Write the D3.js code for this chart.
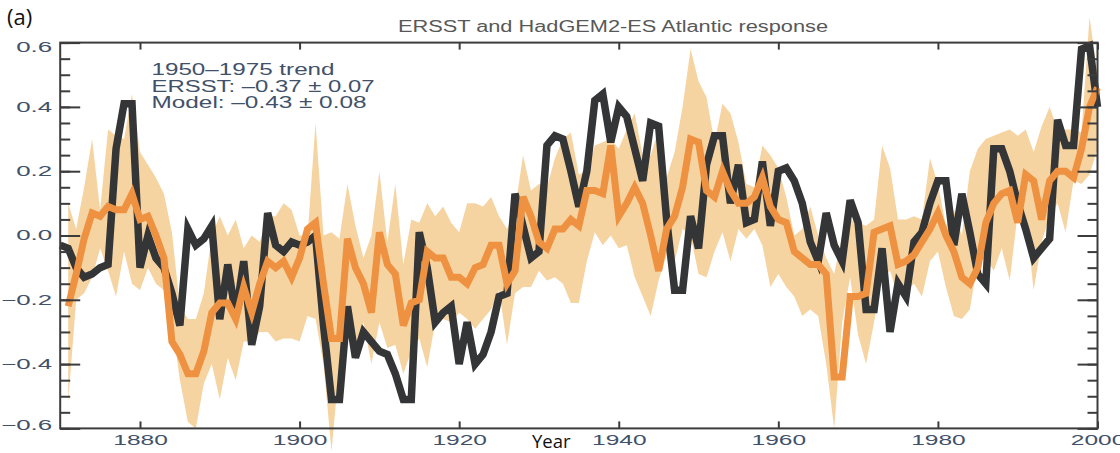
<!DOCTYPE html>
<html>
<head>
<meta charset="utf-8">
<script src="https://cdn.jsdelivr.net/npm/d3@7/dist/d3.min.js"></script>
<style>
  body { margin: 0; background: #fff; }
  svg { display: block; }
</style>
</head>
<body>
<div id="chart"></div>
<script>
// Chart constants
const WIDTH = 1120;
const HEIGHT = 453;
const MARGIN = { left: 60.2, right: 22.5, top: 42.6, bottom: 24.6 };

// ERSST Atlantic anomaly, one value per year from 1870
const ERSST_START = 1870;
const ersst = [
  -0.03, -0.04, -0.10, -0.13, -0.12, -0.10, -0.09, 0.27, 0.41, 0.41,
  -0.10, 0.00, -0.07, -0.10, -0.18, -0.28, 0.02, -0.03, -0.01, 0.03,
  -0.26, -0.09, -0.25, -0.08, -0.34, -0.22, 0.07, -0.03, -0.05, -0.02,
  -0.03, -0.02, 0.00, -0.28, -0.51, -0.51, -0.22, -0.38, -0.30, -0.33,
  -0.36, -0.37, -0.43, -0.51, -0.51, 0.01, -0.10, -0.27, -0.24, -0.22,
  -0.40, -0.27, -0.40, -0.37, -0.30, -0.19, -0.18, 0.13, 0.03, -0.07,
  -0.05, 0.28, 0.31, 0.30, 0.20, 0.09, 0.20, 0.42, 0.44, 0.29,
  0.40, 0.37, 0.27, 0.17, 0.35, 0.34, 0.05, -0.17, -0.17, 0.06,
  -0.04, 0.22, 0.31, 0.31, 0.10, 0.22, 0.04, 0.05, 0.23, 0.03,
  0.20, 0.21, 0.17, 0.10, -0.02, -0.08, 0.07, -0.03, -0.08, 0.11,
  0.04, -0.23, -0.23, -0.04, -0.30, -0.15, -0.19, -0.02, 0.01, 0.10,
  0.17, 0.17, -0.03, 0.13, 0.01, -0.12, -0.15, 0.27, 0.27, 0.20,
  0.10, 0.02, -0.07, -0.04, -0.01, 0.36, 0.28, 0.28, 0.58, 0.59,
  0.40
];

// HadGEM2-ES response: ensemble mean, upper and lower envelope, from 1871
const MODEL_START = 1871;
const modelMean = [
  -0.22, -0.12, -0.01, 0.07, 0.06, 0.09, 0.08, 0.08, 0.13,
  0.05, 0.06, 0.00, -0.07, -0.33, -0.37, -0.43, -0.43, -0.36, -0.24,
  -0.21, -0.21, -0.26, -0.16, -0.24, -0.15, -0.08, -0.10, -0.08, -0.13,
  -0.07, 0.02, 0.04, -0.15, -0.32, -0.32, -0.01, -0.10, -0.15, -0.24,
  0.01, -0.09, -0.12, -0.28, -0.21, -0.20, -0.05, -0.07, -0.07, -0.13,
  -0.13, -0.15, -0.10, -0.09, -0.03, -0.03, -0.15, -0.11, 0.12, 0.06,
  -0.02, -0.04, 0.02, 0.02, 0.05, 0.03, 0.14, 0.14, 0.13, 0.28,
  0.06, 0.10, 0.15, 0.10, 0.00, -0.11, 0.02, 0.06, 0.15, 0.30,
  0.29, 0.14, 0.12, 0.20, 0.14, 0.10, 0.10, 0.12, 0.18, 0.09,
  0.05, 0.04, -0.05, -0.07, -0.09, -0.09, -0.12, -0.44, -0.44, -0.19,
  -0.19, -0.18, 0.01, 0.02, 0.03, -0.09, -0.08, -0.06, -0.02, 0.02,
  0.07, 0.00, -0.05, -0.13, -0.15, -0.10, 0.04, 0.10, 0.13, 0.14,
  0.04, 0.19, 0.17, 0.05, 0.17, 0.20, 0.20, 0.18, 0.27, 0.40,
  0.46
];
const modelHigh = [
  0.10, 0.02, 0.15, 0.30, 0.08, 0.33, 0.31, 0.30, 0.44,
  0.26, 0.22, 0.18, 0.13, 0.01, -0.22, -0.26, -0.26, -0.18, 0.00,
  0.06, 0.00, 0.05, -0.04, 0.00, -0.02, 0.06, 0.06, 0.10, 0.08,
  0.00, 0.00, 0.35, 0.00, 0.01, -0.01, 0.16, 0.03, -0.07, 0.00,
  0.20, -0.02, 0.16, -0.09, 0.05, 0.04, 0.10, 0.06, 0.09, 0.04,
  0.01, 0.10, 0.10, 0.09, 0.12, 0.06, 0.02, 0.08, 0.25, 0.14,
  0.16, 0.15, 0.24, 0.30, 0.32, 0.19, 0.20, 0.28, 0.29, 0.30,
  0.27, 0.33, 0.38, 0.25, 0.25, 0.33, 0.18, 0.26, 0.40, 0.58,
  0.48, 0.43, 0.29, 0.41, 0.38, 0.29, 0.16, 0.15, 0.28, 0.25,
  0.21, 0.12, 0.00, 0.02, 0.09, 0.00, -0.07, -0.12, 0.00, 0.05,
  0.04, 0.03, 0.05, 0.28, 0.21, 0.05, 0.05, 0.06, 0.05, 0.24,
  0.16, 0.03, 0.08, 0.00, 0.20, 0.27, 0.30, 0.31, 0.32, 0.33,
  0.31, 0.33, 0.26, 0.34, 0.40, 0.33, 0.33, 0.33, 0.32, 0.68,
  0.50
];
const modelLow = [
  -0.52, -0.20, -0.18, -0.13, -0.04, -0.11, -0.19, -0.05, -0.15,
  -0.17, -0.10, -0.15, -0.17, -0.27, -0.45, -0.58, -0.60, -0.46, -0.40,
  -0.51, -0.38, -0.45, -0.33, -0.33, -0.30, -0.30, -0.33, -0.32, -0.32,
  -0.33, -0.25, -0.26, -0.40, -0.67, -0.40, -0.26, -0.39, -0.27, -0.40,
  -0.27, -0.35, -0.34, -0.43, -0.36, -0.32, -0.41, -0.27, -0.26, -0.27,
  -0.24, -0.26, -0.29, -0.26, -0.23, -0.17, -0.34, -0.18, -0.16, -0.16,
  -0.11, -0.14, -0.13, -0.15, -0.21, -0.21, -0.08, 0.01, -0.03, 0.00,
  -0.04, -0.03, -0.13, -0.19, -0.25, -0.14, -0.06, -0.08, 0.02, 0.00,
  -0.12, -0.13, -0.05, 0.01, -0.08, 0.02, -0.01, 0.02, -0.03, -0.16,
  -0.12, -0.16, -0.19, -0.25, -0.23, -0.25, -0.40, -0.60, -0.27, -0.13,
  -0.31, -0.40, -0.27, -0.13, -0.11, -0.19, -0.17, -0.15, -0.19, -0.08,
  -0.05, -0.16, -0.25, -0.26, -0.23, -0.08, -0.07, -0.11, -0.04, -0.14,
  0.07, 0.06, -0.17, -0.02, 0.06, 0.10, 0.01, 0.17, 0.16, 0.19,
  0.27
];

const xTicks = [1880, 1900, 1920, 1940, 1960, 1980, 2000];
const yTicks = [-0.6, -0.4, -0.2, 0.0, 0.2, 0.4, 0.6];

const TITLE = "ERSST and HadGEM2-ES Atlantic response";
const NOTE = ["1950\u20131975 trend", "ERSST: \u20130.37 \u00b1 0.07", "Model: \u20130.43 \u00b1 0.08"];

const LABEL_COLOR = "#41516a";
const FONT = "'Liberation Sans', Arial, Helvetica, sans-serif";

// stretch text horizontally, the source figure uses a wide face
function stretch (sel, k) {
  sel.each(function () {
    const w = this.getComputedTextLength();
    d3.select(this).attr("textLength", w * k).attr("lengthAdjust", "spacingAndGlyphs");
  });
}

draw();

function draw () {
  const svg = d3.select("#chart").append("svg")
    .attr("width", WIDTH)
    .attr("height", HEIGHT);

  const x = d3.scaleLinear()
    .domain([1870, 2000])
    .range([MARGIN.left, WIDTH - MARGIN.right]);
  const y = d3.scaleLinear()
    .domain([-0.6, 0.6])
    .range([HEIGHT - MARGIN.bottom, MARGIN.top]);

  const obs = ersst.map((v, i) => ({ year: ERSST_START + i, value: v }));
  const model = modelMean.map((v, i) => ({
    year: MODEL_START + i, value: v, lo: modelLow[i], hi: modelHigh[i]
  }));

  // envelope
  svg.append("path")
    .datum(model)
    .attr("fill", "#f6d4a2")
    .attr("d", d3.area()
      .x(d => x(d.year))
      .y0(d => y(d.lo))
      .y1(d => y(d.hi)));

  const line = d3.line()
    .x(d => x(d.year))
    .y(d => y(d.value));

  svg.append("path")
    .datum(obs)
    .attr("fill", "none")
    .attr("stroke", "#333537")
    .attr("stroke-width", 7.5)
    .attr("d", line);

  svg.append("path")
    .datum(model)
    .attr("fill", "none")
    .attr("stroke", "#ee9141")
    .attr("stroke-width", 7)
    .attr("d", line);

  // frame
  svg.append("rect")
    .attr("x", x(1870))
    .attr("y", y(0.6))
    .attr("width", x(2000) - x(1870))
    .attr("height", y(-0.6) - y(0.6))
    .attr("fill", "none")
    .attr("stroke", "#3c3c3c")
    .attr("stroke-width", 2);

  const minor = y.ticks(24);

  // y axes, ticks pointing inward on both sides
  const yLeft = svg.append("g").attr("transform", `translate(${x(1870)},0)`);
  yLeft.append("g")
    .call(d3.axisLeft(y).tickValues(minor).tickSize(-10).tickFormat(""));
  yLeft.append("g")
    .call(d3.axisLeft(y).tickValues(yTicks).tickSize(-20).tickPadding(8).tickFormat(d3.format(".1f")));

  const yRight = svg.append("g").attr("transform", `translate(${x(2000)},0)`);
  yRight.append("g")
    .call(d3.axisRight(y).tickValues(minor).tickSize(-10).tickFormat(""));
  yRight.append("g")
    .call(d3.axisRight(y).tickValues(yTicks).tickSize(-20).tickFormat(""));

  // x axes
  svg.append("g")
    .attr("class", "xaxis")
    .attr("transform", `translate(0,${y(-0.6)})`)
    .call(d3.axisBottom(x).tickValues(xTicks).tickSize(-7).tickPadding(6.5).tickFormat(d3.format("d")));
  svg.append("g")
    .attr("transform", `translate(0,${y(0.6)})`)
    .call(d3.axisTop(x).tickValues(xTicks).tickSize(-7).tickFormat(""));

  svg.selectAll(".domain").remove();
  svg.selectAll(".tick line").attr("stroke", "#3c3c3c").attr("stroke-width", 2);

  svg.selectAll(".tick text")
    .attr("fill", LABEL_COLOR)
    .style("font-family", FONT)
    .style("font-size", "14px");

  // end labels sit a little inside the frame
  yLeft.selectAll(".tick text")
    .attr("dy", d => d === 0.6 ? "0.62em" : d === -0.6 ? "0.05em" : "0.32em");

  stretch(yLeft.selectAll(".tick text"), 1.85);
  stretch(svg.select(".xaxis").selectAll(".tick text"), 1.75);

  // title
  svg.append("text")
    .attr("x", 398)
    .attr("y", 31.5)
    .attr("fill", "#585858")
    .style("font-family", FONT)
    .style("font-size", "16px")
    .attr("textLength", 430)
    .attr("lengthAdjust", "spacingAndGlyphs")
    .text(TITLE);

  // trend note
  const noteWidths = [183, 223, 215];
  svg.append("g")
    .selectAll("text")
    .data(NOTE)
    .join("text")
    .attr("x", 151.5)
    .attr("y", (d, i) => 75 + i * 16.6)
    .attr("fill", LABEL_COLOR)
    .style("font-family", FONT)
    .style("font-size", "16px")
    .attr("textLength", (d, i) => noteWidths[i])
    .attr("lengthAdjust", "spacingAndGlyphs")
    .text(d => d);

  // panel letter and axis name
  svg.append("text")
    .attr("x", 7)
    .attr("y", 25)
    .attr("fill", "#111")
    .style("font-family", "'Open Sans', 'Noto Sans', sans-serif")
    .style("font-size", "22px")
    .text("(a)");

  svg.append("text")
    .attr("x", 532)
    .attr("y", 448)
    .attr("fill", "#111")
    .style("font-family", "'Open Sans', 'Noto Sans', sans-serif")
    .style("font-size", "18.5px")
    .text("Year");
}
</script>
</body>
</html>
